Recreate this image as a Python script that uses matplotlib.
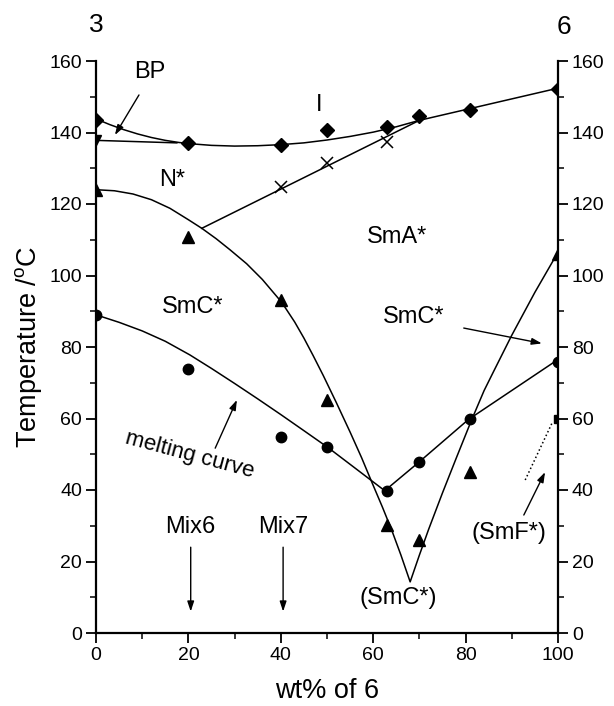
import matplotlib
matplotlib.use("Agg")
import matplotlib.pyplot as plt
from matplotlib.ticker import MultipleLocator

plt.rcParams['font.family'] = ['Liberation Sans', 'DejaVu Sans']
plt.rcParams['mathtext.fontset'] = 'custom'
plt.rcParams['mathtext.rm'] = 'Liberation Sans'
plt.rcParams['mathtext.it'] = 'Liberation Sans:italic'

# ---- data ----
# isotropic transition (diamonds)
iso_x = [0, 20, 40, 50, 63, 70, 81, 100]
iso_y = [143.5, 137, 136.5, 140.7, 141.4, 144.6, 146.3, 152.2]
# N*/SmA* transition (crosses)
na_x = [40, 50, 63]
na_y = [124.8, 131.5, 137.3]
# SmC*/SmA* (N*) transition (triangles)
ca_x = [0, 20, 40, 50, 63, 70, 81, 100]
ca_y = [124, 110.7, 93.1, 65.2, 30.2, 26, 45, 106]
# melting points (circles)
mp_x = [0, 20, 40, 50, 63, 70, 81, 100]
mp_y = [89, 73.8, 54.9, 52, 39.7, 47.8, 59.8, 75.8]
# BP marker at x=0, SmF* marker at x=100
bp_x, bp_y = [0], [138]
smf_x, smf_y = [100], [60]

# drawn phase-boundary curves (vertices)
iso_cx = [0, 3, 6, 9, 12, 15, 18, 21, 25, 30, 35, 40, 45, 50, 55, 60, 65, 70, 81, 100]
iso_cy = [143.8, 142.2, 140.8, 139.6, 138.6, 137.8, 137.2, 136.8, 136.4, 136.2,
          136.3, 136.6, 137.1, 137.9, 138.9, 140.1, 141.6, 143.4, 146.7, 152.4]
bp_cx = [0, 17.5]
bp_cy = [137.8, 137.1]
na_cx = [22.9, 70]
na_cy = [113.2, 143.4]
ca_cx = [0, 4, 8, 12, 16, 20, 22.9, 26, 29, 32.6, 36, 40.2, 43, 45, 47, 49.2,
         52, 55, 57.5, 59.7, 62, 64, 66, 68,
         70, 72, 75, 78, 81.3, 84, 86, 90, 95, 100]
ca_cy = [124, 123.7, 122.8, 121.2, 118.8, 115.6, 113.2, 110.3, 107.2, 103.3, 98.9,
         92.5, 87, 82.5, 77.6, 72, 64.5, 56.2, 49.0, 42.2, 35.2, 28.8, 21.8, 14.3,
         21.8, 29, 39.2, 49, 59.6, 67.8, 73, 83.3, 95.3, 106.5]
mp_cx = [0, 5, 10, 15, 20.3, 25, 30, 35, 40, 45, 50.3, 56, 62.5, 70, 80.6, 100]
mp_cy = [89, 86.9, 84.5, 81.6, 77.8, 74, 69.8, 65.5, 61.1, 56.6, 51.8, 46.2, 39.8,
         47.9, 59.7, 76.5]
smf_dx = [92.9, 98.7]
smf_dy = [42.8, 58.7]

xticks = [0, 20, 40, 60, 80, 100]
yticks = [0, 20, 40, 60, 80, 100, 120, 140, 160]

fig = plt.figure(figsize=(6.14, 7.06), dpi=100)
ax = fig.add_axes([96/614, 73/706, 462/614, 572/706])

lw = 1.1
ax.plot(iso_cx, iso_cy, 'k-', lw=lw)
ax.plot(bp_cx, bp_cy, 'k-', lw=lw)
ax.plot(na_cx, na_cy, 'k-', lw=lw)
ax.plot(ca_cx, ca_cy, 'k-', lw=lw)
ax.plot(mp_cx, mp_cy, 'k-', lw=lw)
ax.plot(smf_dx, smf_dy, 'k:', lw=1.1)

ax.plot(iso_x, iso_y, 'kD', ms=7.5, ls='none')
ax.plot(na_x, na_y, 'kx', ms=8, mew=1.1, ls='none')
ax.plot(ca_x, ca_y, 'k^', ms=8.5, ls='none')
ax.plot(mp_x, mp_y, 'ko', ms=7.5, ls='none')
ax.plot(bp_x, bp_y, 'kv', ms=7, ls='none')
ax.plot(smf_x, smf_y, 'ks', ms=6, ls='none')

ax.set_xlim(0, 100)
ax.set_ylim(0, 160)
ax.set_xticks(xticks)
ax.set_yticks(yticks)
ax.xaxis.set_minor_locator(MultipleLocator(10))
ax.yaxis.set_minor_locator(MultipleLocator(10))
ax.spines['top'].set_visible(False)
for s in ['left', 'right', 'bottom']:
    ax.spines[s].set_linewidth(1.6)
ax.tick_params(axis='both', which='major', direction='out', length=7, width=1.3,
               labelsize=14, pad=3)
ax.tick_params(axis='both', which='minor', direction='out', length=4, width=1.1)
ax.tick_params(axis='y', which='both', left=True, right=True, labelleft=True, labelright=True)

ax.set_xlabel('wt% of 6', fontsize=19.5, labelpad=10)
ax.set_ylabel('Temperature /$^{\\mathrm{o}}$C', fontsize=19.5, labelpad=4)

fs = 17
ax.text(0, 170, '3', fontsize=19, ha='center', va='center', clip_on=False)
ax.text(101.3, 169.5, '6', fontsize=19, ha='center', va='center', clip_on=False)
ax.text(11.7, 157, 'BP', fontsize=fs, ha='center', va='center')
ax.text(48.3, 147.7, 'I', fontsize=fs, ha='center', va='center')
ax.text(16.4, 126.7, 'N*', fontsize=fs, ha='center', va='center')
ax.text(65.2, 110.8, 'SmA*', fontsize=fs, ha='center', va='center')
ax.text(21, 91.2, 'SmC*', fontsize=fs, ha='center', va='center')
ax.text(68.8, 88.4, 'SmC*', fontsize=fs, ha='center', va='center')
ax.text(20.3, 49.8, 'melting curve', fontsize=16, ha='center', va='center', rotation=-15)
ax.text(20.5, 29.7, 'Mix6', fontsize=fs, ha='center', va='center')
ax.text(40.5, 29.7, 'Mix7', fontsize=fs, ha='center', va='center')
ax.text(65.4, 9.8, '(SmC*)', fontsize=fs, ha='center', va='center')
ax.text(89.4, 28, '(SmF*)', fontsize=fs, ha='center', va='center')

ap = dict(arrowstyle='-|>,head_length=0.6,head_width=0.2', color='k', lw=1.0,
          shrinkA=0, shrinkB=0)
ax.annotate('', xy=(4.1, 139.3), xytext=(9.3, 150.5), arrowprops=ap)
ax.annotate('', xy=(96.5, 81), xytext=(79.6, 85.3), arrowprops=ap)
ax.annotate('', xy=(30.5, 65.2), xytext=(25.8, 51.7), arrowprops=ap)
ax.annotate('', xy=(20.5, 6), xytext=(20.5, 24), arrowprops=ap)
ax.annotate('', xy=(40.5, 6), xytext=(40.5, 24), arrowprops=ap)
ax.annotate('', xy=(97.2, 45), xytext=(92.6, 33), arrowprops=ap)

fig.savefig('out.png', dpi=100)
